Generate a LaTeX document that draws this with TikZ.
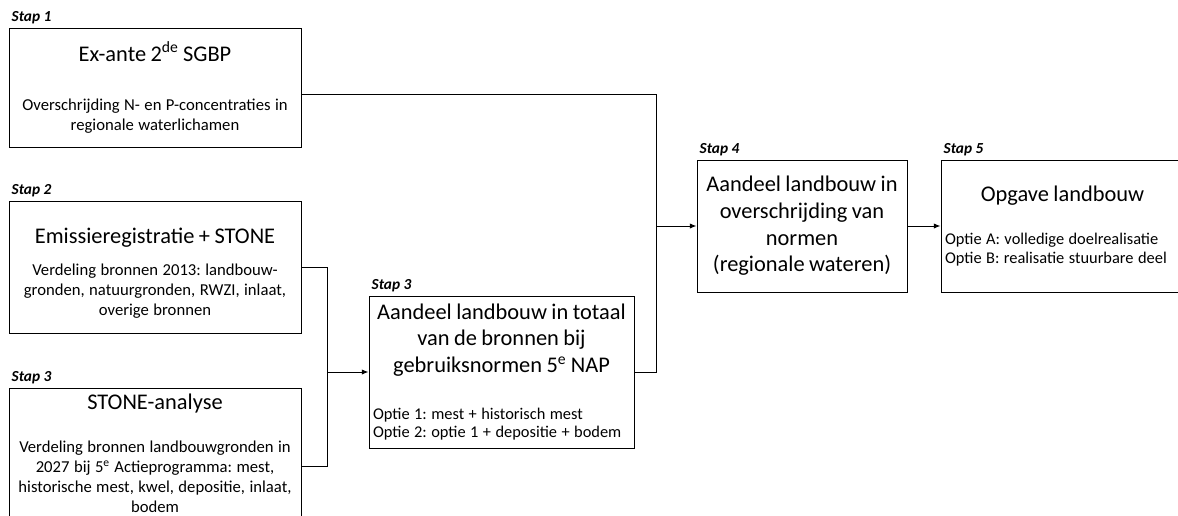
\documentclass[tikz,border=0pt]{standalone}
\usepackage{fontspec}
\setmainfont{Carlito}
\usepackage{tikz}
\usetikzlibrary{arrows.meta,calc,positioning}
\newcommand{\kopfont}{\fontsize{16.8}{20}\selectfont}
\newcommand{\tekstfont}{\fontsize{12.5}{15}\selectfont}
\newcommand{\optfont}{\fontsize{12.3}{14}\selectfont}
\frenchspacing

\begin{document}
\begin{tikzpicture}[x=0.75pt,y=-0.75pt,>={Latex[length=5pt,width=4pt]},line width=0.75pt,
    box/.style={draw,inner xsep=3pt,inner ysep=0pt,align=center},
    stap/.style={font=\fontsize{11.5}{13.8}\selectfont\bfseries\itshape,inner sep=2pt}]
    \useasboundingbox (0,0) rectangle (1178,515);
    \node[box,text width=213pt,minimum width=219pt,minimum height=89.25pt] (exante) at (155,87.5) {{\kopfont Ex-ante 2\textsuperscript{de} SGBP\par}\vspace{21.75pt}\tekstfont Overschrijding N- en P-concentraties in\\ regionale waterlichamen\par};
    \node[box,text width=213pt,minimum width=219pt,minimum height=99pt,below=39.75pt of exante] (emissie) {{\kopfont\rule{0pt}{21pt}Emissieregistratie + STONE\par}\vspace{9pt}\tekstfont Verdeling bronnen 2013: landbouw-\\ gronden, natuurgronden, RWZI, inlaat,\\ overige bronnen\par};
    \node[box,text width=213pt,minimum width=219pt,minimum height=117pt,below=40.5pt of emissie] (stone) {{\kopfont STONE-analyse\par}\vspace{17pt}\tekstfont Verdeling bronnen landbouwgronden in\\ 2027 bij 5\textsuperscript{e} Actieprogramma: mest,\\ historische mest, kwel, depositie, inlaat,\\ bodem\rule[-18.75pt]{0pt}{18.75pt}\par};
    \node[box,align=left,text width=192.75pt,minimum width=198.75pt,minimum height=114pt] (totaal) at (501.5,372) {{\centering\kopfont Aandeel landbouw in totaal\\ van de bronnen bij\\ gebruiksnormen 5\textsuperscript{e} NAP\par}\vspace{21pt}\optfont Optie 1: mest + historisch mest\\ Optie 2: optie 1 + depositie + bodem\par};
    \node[box,text width=151.5pt,minimum width=157.5pt,minimum height=99pt] (aandeel) at (802,226) {\kopfont Aandeel landbouw in\\ overschrijding van\\ normen\\ (regionale wateren)\par};
    \node[box,align=left,text width=176.25pt,minimum width=182.25pt,minimum height=99pt,right=24.75pt of aandeel] (opgave) {{\centering\kopfont Opgave landbouw\par}\vspace{18pt}\optfont Optie A: volledige doelrealisatie\\ Optie B: realisatie stuurbare deel\par};
    \node[stap,above right=0pt of exante.north west] (stap1) {Stap 1};
    \node[stap,above right=0pt of emissie.north west] (stap2) {Stap 2};
    \node[stap,above right=0pt of stone.north west] (stap3a) {Stap 3};
    \node[stap,above right=0pt of totaal.north west] (stap3b) {Stap 3};
    \node[stap,above right=0pt of aandeel.north west] (stap4) {Stap 4};
    \node[stap,above right=0pt of opgave.north west] (stap5) {Stap 5};
    \coordinate (splitA) at ($(aandeel.west)+(-40,0)$);
    \coordinate (splitB) at ($(totaal.west)+(-41,0)$);
    \draw ([yshift=-4.9pt]exante.east) -| (splitA) |- (totaal.east);
    \draw[->] (splitA) -- (aandeel.west);
    \draw (emissie.east) -| (splitB) |- (stone.east);
    \draw[->] (splitB) -- (totaal.west);
    \draw[->] (aandeel) -- (opgave);
\end{tikzpicture}
\end{document}
